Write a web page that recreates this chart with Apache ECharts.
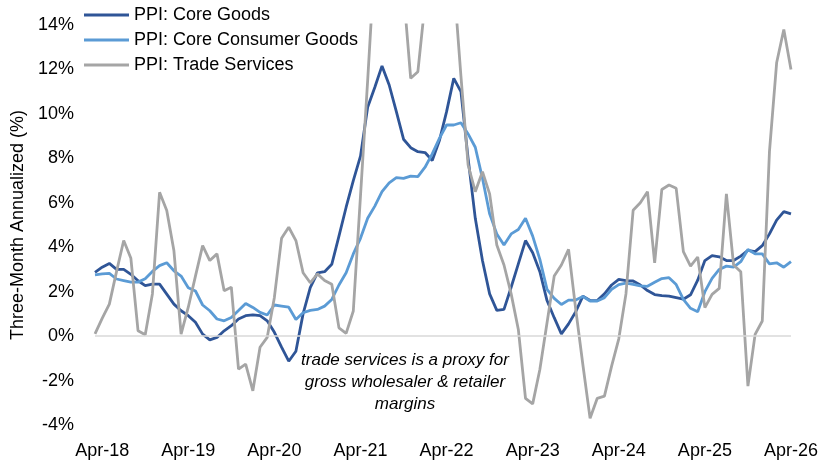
<!DOCTYPE html>
<html>
<head>
<meta charset="utf-8">
<script src="https://cdn.jsdelivr.net/npm/echarts@6/dist/echarts.min.js"></script>
<style>
html,body{margin:0;padding:0;background:#fff;}
#chart{width:821px;height:466px;}
</style>
</head>
<body>
<div id="chart"></div>
<script>
// ---- data ----
const startYear = 2018, startMonth = 2, monthCount = 98; // Mar-18 .. Apr-26
const monthNames = ['Jan','Feb','Mar','Apr','May','Jun','Jul','Aug','Sep','Oct','Nov','Dec'];
const categories = [];
for (let k = 0; k < monthCount; k++) {
  const m = (startMonth + k) % 12;
  const y = (startYear - 2000) + Math.floor((startMonth + k) / 12);
  categories.push(monthNames[m] + '-' + y);
}
const tickLabels = ['Apr-18','Apr-19','Apr-20','Apr-21','Apr-22','Apr-23','Apr-24','Apr-25','Apr-26'];

const coreGoods = [
  2.87, 3.1, 3.27, 3.0, 3.0, 2.78, 2.49, 2.27, 2.34, 2.34,
  1.89, 1.44, 1.14, 0.92, 0.62, 0.09, -0.17, -0.06, 0.24, 0.47,
  0.77, 0.92, 0.96, 0.92, 0.69, 0.17, -0.5, -1.13, -0.68, 1.0,
  2.18, 2.85, 2.9, 3.23, 4.5, 5.8, 7.0, 8.1, 10.3, 11.2,
  12.16, 11.3, 10.1, 8.86, 8.48, 8.3, 8.26, 7.9, 8.8, 10.1,
  11.6, 11.0, 8.0, 5.3, 3.4, 1.9, 1.16, 1.2, 2.2, 3.25,
  4.3, 3.75, 2.9, 1.6, 0.83, 0.1, 0.55, 1.1, 1.8, 1.6,
  1.6, 1.9, 2.3, 2.55, 2.5, 2.48, 2.3, 2.05, 1.87, 1.82,
  1.8, 1.73, 1.66, 1.86, 2.52, 3.4, 3.62, 3.57, 3.4, 3.4,
  3.6, 3.86, 3.8, 4.07, 4.6, 5.22, 5.6, 5.5
];
const coreConsumerGoods = [
  2.76, 2.8, 2.82, 2.57, 2.5, 2.43, 2.43, 2.58, 2.91, 3.17,
  3.3, 2.94, 2.7, 2.18, 2.03, 1.4, 1.14, 0.77, 0.69, 0.84,
  1.15, 1.47, 1.29, 1.07, 0.95, 1.4, 1.35, 1.3, 0.75, 1.05,
  1.16, 1.2, 1.35, 1.65, 2.3, 2.85, 3.7, 4.4, 5.3, 5.85,
  6.5, 6.9, 7.13, 7.1, 7.2, 7.18, 7.6, 8.2, 8.9, 9.5,
  9.5, 9.6, 9.1, 8.5, 7.1, 5.5, 4.6, 4.1, 4.6, 4.8,
  5.3, 4.5, 3.45, 2.1, 1.7, 1.42, 1.62, 1.62, 1.78, 1.58,
  1.58, 1.73, 2.1, 2.32, 2.38, 2.33, 2.26, 2.24, 2.42, 2.59,
  2.63, 2.32, 1.65, 1.25, 1.1, 2.0, 2.6, 3.0, 3.15, 3.1,
  3.35, 3.9, 3.7, 3.7, 3.25, 3.3, 3.1, 3.35
];
const tradeServices = [
  0.1, 0.8, 1.44, 2.9, 4.3, 3.5, 0.24, 0.06, 1.9, 6.47,
  5.65, 3.84, 0.09, 1.3, 2.7, 4.07, 3.4, 3.7, 2.04, 2.2,
  -1.49, -1.26, -2.46, -0.5, -0.06, 1.74, 4.4, 4.9, 4.3, 2.85,
  2.4, 2.8, 2.5, 2.33, 0.37, 0.12, 1.13, 6.3, 11.5, 17,
  21, 20, 18, 15.5, 11.6, 11.9, 15, 19, 20, 18,
  16, 11.7, 7.7, 6.5, 7.4, 6.4, 4.1, 3.2, 1.9, 0.3,
  -2.8, -3.05, -1.5, 0.6, 2.7, 3.2, 3.9, 1.2, -1.3, -3.7,
  -2.8, -2.7, -1.35, -0.12, 1.9, 5.66, 6.0, 6.5, 3.3, 6.6,
  6.8, 6.65, 3.8, 3.15, 3.56, 1.28, 1.88, 2.15, 6.4, 3.2,
  2.9, -2.25, 0.08, 0.68, 8.3, 12.3, 13.8, 12.0
];
const seriesNames = ['PPI: Core Goods', 'PPI: Core Consumer Goods', 'PPI: Trade Services'];
const annotationLines = ['trade services is a proxy for', 'gross wholesaler & retailer', 'margins'];
const yAxisTitle = 'Three-Month Annualized (%)';

// ---- chart ----
const FONT = '"Liberation Sans", Arial, sans-serif';
const chart = echarts.init(document.getElementById('chart'), null, {renderer: 'canvas'});
const colors = ['#2F5597', '#5B9BD5', '#A5A5A5'];

function lineSeries(name, data, color, extra) {
  return Object.assign({
    name: name,
    type: 'line',
    data: data,
    showSymbol: false,
    symbol: 'none',
    clip: true,
    animation: false,
    lineStyle: {color: color, width: 2.8},
    itemStyle: {color: color}
  }, extra || {});
}

chart.setOption({
  animation: false,
  backgroundColor: '#ffffff',
  textStyle: {fontFamily: FONT},
  grid: {left: 95, right: 30, top: 25, bottom: 41},
  legend: {
    show: true,
    orient: 'vertical',
    left: 84,
    top: 6,
    padding: 0,
    itemWidth: 45,
    itemHeight: 3,
    itemGap: 7,
    icon: 'rect',
    textStyle: {fontSize: 18, color: '#000', fontFamily: FONT},
    data: seriesNames
  },
  xAxis: {
    type: 'category',
    data: categories,
    boundaryGap: false,
    axisLine: {show: false},
    axisTick: {show: false},
    splitLine: {show: false},
    axisLabel: {
      interval: function (idx, val) { return tickLabels.indexOf(val) >= 0; },
      fontSize: 18,
      color: '#000',
      margin: 17,
      fontFamily: FONT
    }
  },
  yAxis: {
    type: 'value',
    min: -4,
    max: 14,
    interval: 2,
    name: yAxisTitle,
    nameLocation: 'middle',
    nameRotate: 90,
    nameGap: 62,
    nameTextStyle: {fontSize: 18, color: '#000', fontFamily: FONT},
    axisLine: {show: false},
    axisTick: {show: false},
    splitLine: {show: false},
    axisLabel: {formatter: '{value}%', fontSize: 18, color: '#000', margin: 21, fontFamily: FONT}
  },
  graphic: [{
    type: 'text',
    x: 405,
    y: 349,
    silent: true,
    style: {
      text: annotationLines.join('\n'),
      fill: '#000',
      font: 'italic 17px "Liberation Sans", Arial, sans-serif',
      lineHeight: 22,
      align: 'center',
      verticalAlign: 'top'
    }
  }],
  series: [
    lineSeries(seriesNames[0], coreGoods, colors[0], {
      markLine: {
        silent: true,
        symbol: 'none',
        label: {show: false},
        lineStyle: {color: '#D9D9D9', width: 1.5, type: 'solid'},
        data: [{yAxis: 0}],
        animation: false
      },
      z: 2
    }),
    lineSeries(seriesNames[1], coreConsumerGoods, colors[1], {z: 3}),
    lineSeries(seriesNames[2], tradeServices, colors[2], {z: 4})
  ]
});
</script>
</body>
</html>
